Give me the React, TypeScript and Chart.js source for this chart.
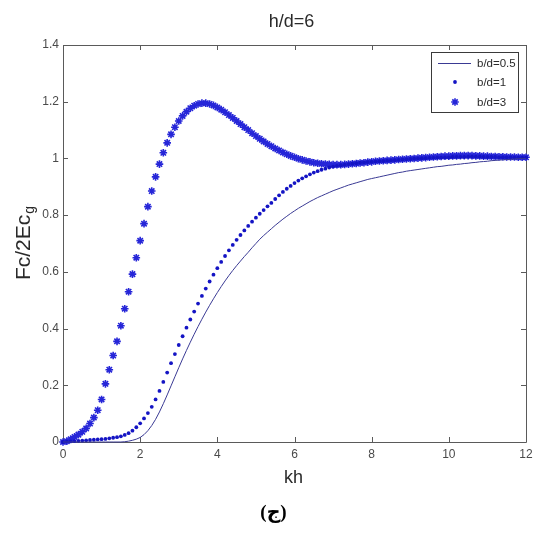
import React, { useEffect, useRef } from "react";
import { Chart, registerables } from "chart.js";

Chart.register(...registerables);

const TITLE = "h/d=6";
const X_LABEL = "kh";
const Y_LABEL_MAIN = "Fc/2Ec";
const Y_LABEL_SUB = "g";
const CAPTION = "(ج)";
const SERIES_NAMES = ["b/d=0.5", "b/d=1", "b/d=3"];
const X_TICKS = [0, 2, 4, 6, 8, 10, 12];
const Y_TICKS = [0, 0.2, 0.4, 0.6, 0.8, 1, 1.2, 1.4];
const Y_TICK_LABELS = ["0", "0.2", "0.4", "0.6", "0.8", "1", "1.2", "1.4"];

const KH = [
  0, 0.1, 0.2, 0.3, 0.4, 0.5, 0.6, 0.7, 0.8, 0.9,
  1, 1.1, 1.2, 1.3, 1.4, 1.5, 1.6, 1.7, 1.8, 1.9,
  2, 2.1, 2.2, 2.3, 2.4, 2.5, 2.6, 2.7, 2.8, 2.9,
  3, 3.1, 3.2, 3.3, 3.4, 3.5, 3.6, 3.7, 3.8, 3.9,
  4, 4.1, 4.2, 4.3, 4.4, 4.5, 4.6, 4.7, 4.8, 4.9,
  5, 5.1, 5.2, 5.3, 5.4, 5.5, 5.6, 5.7, 5.8, 5.9,
  6, 6.1, 6.2, 6.3, 6.4, 6.5, 6.6, 6.7, 6.8, 6.9,
  7, 7.1, 7.2, 7.3, 7.4, 7.5, 7.6, 7.7, 7.8, 7.9,
  8, 8.1, 8.2, 8.3, 8.4, 8.5, 8.6, 8.7, 8.8, 8.9,
  9, 9.1, 9.2, 9.3, 9.4, 9.5, 9.6, 9.7, 9.8, 9.9,
  10, 10.1, 10.2, 10.3, 10.4, 10.5, 10.6, 10.7, 10.8, 10.9,
  11, 11.1, 11.2, 11.3, 11.4, 11.5, 11.6, 11.7, 11.8, 11.9,
  12,
];

// b/d = 0.5 (solid line)
const BD05 = [
  0, 0, 0, 0, 0, 0, 0, 0, 0, 0,
  0, 0, 0, 0, 0, 0, 0.001, 0.003, 0.006, 0.01,
  0.016, 0.026, 0.04, 0.058, 0.08, 0.106, 0.135, 0.166, 0.198, 0.23,
  0.262, 0.293, 0.323, 0.352, 0.38, 0.407, 0.433, 0.458, 0.482, 0.505,
  0.527, 0.548, 0.568, 0.587, 0.605, 0.622, 0.638, 0.654, 0.669, 0.685,
  0.7, 0.715, 0.728, 0.74, 0.752, 0.764, 0.775, 0.786, 0.796, 0.806,
  0.815, 0.824, 0.832, 0.84, 0.848, 0.855, 0.862, 0.868, 0.874, 0.88,
  0.886, 0.891, 0.896, 0.901, 0.906, 0.91, 0.914, 0.918, 0.922, 0.926,
  0.929, 0.932, 0.935, 0.938, 0.941, 0.944, 0.947, 0.95, 0.952, 0.955,
  0.957, 0.959, 0.961, 0.963, 0.965, 0.967, 0.969, 0.971, 0.972, 0.974,
  0.976, 0.977, 0.979, 0.98, 0.982, 0.983, 0.985, 0.986, 0.988, 0.989,
  0.99, 0.992, 0.993, 0.994, 0.995, 0.996, 0.997, 0.998, 0.999, 1.0,
  1.0,
];

// b/d = 1 (dots)
const BD1 = [
  0, 0.001, 0.002, 0.003, 0.004, 0.005, 0.006, 0.007, 0.008, 0.009,
  0.01, 0.011, 0.013, 0.015, 0.017, 0.02, 0.025, 0.031, 0.04, 0.052,
  0.066, 0.083, 0.102, 0.124, 0.15, 0.18, 0.212, 0.245, 0.278, 0.31,
  0.342, 0.373, 0.403, 0.432, 0.46, 0.488, 0.515, 0.541, 0.566, 0.59,
  0.613, 0.635, 0.656, 0.676, 0.695, 0.713, 0.73, 0.746, 0.762, 0.777,
  0.791, 0.805, 0.818, 0.831, 0.843, 0.857, 0.87, 0.882, 0.893, 0.903,
  0.913, 0.922, 0.93, 0.937, 0.944, 0.95, 0.955, 0.96, 0.964, 0.968,
  0.971, 0.974, 0.976, 0.978, 0.98, 0.982, 0.983, 0.985, 0.986, 0.987,
  0.988, 0.989, 0.99, 0.991, 0.992, 0.993, 0.994, 0.995, 0.996, 0.997,
  0.998, 0.999, 1.0, 1.0, 1.001, 1.002, 1.002, 1.003, 1.003, 1.004,
  1.004, 1.005, 1.005, 1.005, 1.005, 1.006, 1.006, 1.006, 1.006, 1.005,
  1.005, 1.005, 1.005, 1.004, 1.004, 1.004, 1.004, 1.003, 1.003, 1.003,
  1.003,
];

// b/d = 3 (stars)
const BD3 = [
  0, 0.003, 0.01, 0.018, 0.026, 0.036, 0.048, 0.065, 0.086, 0.112,
  0.15, 0.205, 0.255, 0.305, 0.355, 0.41, 0.47, 0.53, 0.592, 0.65,
  0.71, 0.77, 0.83, 0.885, 0.935, 0.98, 1.02, 1.055, 1.085, 1.11,
  1.132, 1.15, 1.165, 1.177, 1.186, 1.192, 1.195, 1.195, 1.192, 1.187,
  1.18, 1.172, 1.163, 1.153, 1.143, 1.132, 1.121, 1.11, 1.1, 1.089,
  1.079, 1.069, 1.06, 1.051, 1.043, 1.035, 1.028, 1.021, 1.015, 1.009,
  1.004, 0.999, 0.995, 0.991, 0.988, 0.985, 0.983, 0.981, 0.98, 0.979,
  0.978, 0.978, 0.978, 0.979, 0.98, 0.981, 0.982, 0.984, 0.985, 0.987,
  0.988, 0.99, 0.991, 0.992, 0.993, 0.994, 0.995, 0.996, 0.997, 0.998,
  0.999, 1.0, 1.001, 1.002, 1.003, 1.004, 1.005, 1.006, 1.007, 1.008,
  1.008, 1.009, 1.009, 1.01, 1.01, 1.01, 1.01, 1.009, 1.009, 1.008,
  1.008, 1.007, 1.007, 1.006, 1.006, 1.005, 1.005, 1.005, 1.004, 1.004,
  1.004,
];

const LINE_COLOR = "#3a3a94";
const DOT_COLOR = "#1414c4";
const STAR_COLOR = "#2626d8";
const AXIS_COLOR = "#5a5a5a";
const TEXT_COLOR = "#2a2a2a";
const TICK_COLOR = "#4a4a4a";

function toXY(ys: number[]) {
  return KH.map((x, i) => ({ x, y: ys[i] }));
}

function drawStar(ctx: CanvasRenderingContext2D, x: number, y: number, r: number) {
  ctx.beginPath();
  ctx.moveTo(x - r, y);
  ctx.lineTo(x + r, y);
  ctx.moveTo(x, y - r);
  ctx.lineTo(x, y + r);
  const d = r * 0.7071;
  ctx.moveTo(x - d, y - d);
  ctx.lineTo(x + d, y + d);
  ctx.moveTo(x - d, y + d);
  ctx.lineTo(x + d, y - d);
  ctx.stroke();
}

const overlayPlugin = {
  id: "overlay",
  beforeDatasetsDraw(chart: any) {
    const { ctx, chartArea } = chart;
    const { left, right, top, bottom } = chartArea;
    const xs = chart.scales.x;
    const ys = chart.scales.y;
    ctx.save();
    ctx.strokeStyle = AXIS_COLOR;
    ctx.lineWidth = 1;
    ctx.beginPath();
    ctx.rect(Math.round(left) + 0.5, Math.round(top) + 0.5, Math.round(right - left), Math.round(bottom - top));
    ctx.stroke();
    const tl = 5;
    ctx.beginPath();
    X_TICKS.forEach((v) => {
      const px = Math.round(xs.getPixelForValue(v)) + 0.5;
      ctx.moveTo(px, bottom);
      ctx.lineTo(px, bottom - tl);
      ctx.moveTo(px, top);
      ctx.lineTo(px, top + tl);
    });
    Y_TICKS.forEach((v) => {
      const py = Math.round(ys.getPixelForValue(v)) + 0.5;
      ctx.moveTo(left, py);
      ctx.lineTo(left + tl, py);
      ctx.moveTo(right, py);
      ctx.lineTo(right - tl, py);
    });
    ctx.stroke();
    ctx.restore();
  },
  afterDraw(chart: any) {
    const { ctx, chartArea } = chart;
    const cx = (chartArea.left + chartArea.right) / 2;
    const cy = (chartArea.top + chartArea.bottom) / 2;
    ctx.save();
    ctx.fillStyle = TEXT_COLOR;
    ctx.textAlign = "center";
    ctx.textBaseline = "middle";
    // Title
    ctx.font = "18px Arial, 'Liberation Sans', sans-serif";
    ctx.fillText(TITLE, cx - 3, 22);
    // X label
    ctx.font = "18px Arial, 'Liberation Sans', sans-serif";
    ctx.fillText(X_LABEL, cx - 1, 478);
    // Caption
    ctx.fillStyle = "#000";
    ctx.font = "bold 19px 'Liberation Serif', 'DejaVu Sans', serif";
    ctx.fillText(CAPTION, cx - 21, 513);
    // Y label (rotated) with subscript
    ctx.fillStyle = TEXT_COLOR;
    ctx.translate(22, cy);
    ctx.rotate(-Math.PI / 2);
    ctx.textAlign = "left";
    ctx.textBaseline = "alphabetic";
    const mainFont = "21px Arial, 'Liberation Sans', sans-serif";
    const subFont = "14px Arial, 'Liberation Sans', sans-serif";
    ctx.font = mainFont;
    const w1 = ctx.measureText(Y_LABEL_MAIN).width;
    ctx.font = subFont;
    const w2 = ctx.measureText(Y_LABEL_SUB).width;
    const sx = -(w1 + w2) / 2;
    ctx.font = mainFont;
    ctx.fillText(Y_LABEL_MAIN, sx, 8);
    ctx.font = subFont;
    ctx.fillText(Y_LABEL_SUB, sx + w1 + 1, 12);
    ctx.restore();

    // Legend
    ctx.save();
    const lx = 431.5, ly = 52.5, lw = 87, lh = 60;
    ctx.fillStyle = "#fff";
    ctx.fillRect(lx, ly, lw, lh);
    ctx.strokeStyle = "#3a3a3a";
    ctx.lineWidth = 1;
    ctx.strokeRect(lx, ly, lw, lh);
    const rows = [63, 82, 102];
    ctx.strokeStyle = LINE_COLOR;
    ctx.beginPath();
    ctx.moveTo(438, rows[0] + 0.5);
    ctx.lineTo(471, rows[0] + 0.5);
    ctx.stroke();
    ctx.fillStyle = DOT_COLOR;
    ctx.beginPath();
    ctx.arc(455, rows[1], 1.9, 0, Math.PI * 2);
    ctx.fill();
    ctx.strokeStyle = STAR_COLOR;
    ctx.lineWidth = 1.6;
    drawStar(ctx, 455, rows[2], 3.8);
    ctx.fillStyle = TEXT_COLOR;
    ctx.font = "11.5px Arial, 'Liberation Sans', sans-serif";
    ctx.textAlign = "left";
    ctx.textBaseline = "middle";
    SERIES_NAMES.forEach((n, i) => ctx.fillText(n, 477, rows[i] + 1));
    ctx.restore();
  },
};

export default function App() {
  const ref = useRef<HTMLCanvasElement | null>(null);
  useEffect(() => {
    if (!ref.current) return;
    const chart = new Chart(ref.current, {
      type: "scatter",
      data: {
        datasets: [
          {
            label: SERIES_NAMES[0],
            data: toXY(BD05),
            showLine: true,
            borderColor: LINE_COLOR,
            borderWidth: 1,
            pointRadius: 0,
            tension: 0,
            clip: false as any,
          },
          {
            label: SERIES_NAMES[1],
            data: toXY(BD1),
            showLine: false,
            pointStyle: "circle",
            pointRadius: 1.9,
            pointBorderWidth: 0,
            backgroundColor: DOT_COLOR,
            borderColor: DOT_COLOR,
            clip: false as any,
          },
          {
            label: SERIES_NAMES[2],
            data: toXY(BD3),
            showLine: false,
            pointStyle: "star",
            pointRadius: 3.8,
            pointBorderWidth: 1.6,
            borderColor: STAR_COLOR,
            backgroundColor: STAR_COLOR,
            clip: false as any,
          },
        ],
      },
      options: {
        responsive: false,
        animation: false,
        layout: { padding: { left: 0, top: 45, right: 14, bottom: 0 } },
        plugins: { legend: { display: false }, title: { display: false }, tooltip: { enabled: false } },
        scales: {
          x: {
            type: "linear",
            min: 0,
            max: 12,
            afterBuildTicks: (s: any) => {
              s.ticks = X_TICKS.map((v) => ({ value: v }));
            },
            afterFit: (s: any) => {
              s.height = 91;
            },
            ticks: {
              padding: 5,
              maxRotation: 0,
              autoSkip: false,
              color: TICK_COLOR,
              font: { family: "Arial, 'Liberation Sans', sans-serif", size: 12 },
              callback: (v: any) => String(v),
            },
            grid: { display: false, drawTicks: false },
            border: { display: false },
          },
          y: {
            type: "linear",
            min: 0,
            max: 1.4,
            afterBuildTicks: (s: any) => {
              s.ticks = Y_TICKS.map((v) => ({ value: v }));
            },
            afterFit: (s: any) => {
              s.width = 63;
            },
            ticks: {
              padding: 4,
              autoSkip: false,
              color: TICK_COLOR,
              font: { family: "Arial, 'Liberation Sans', sans-serif", size: 12 },
              callback: (v: any) => {
                const i = Y_TICKS.findIndex((t) => Math.abs(t - v) < 1e-6);
                return i >= 0 ? Y_TICK_LABELS[i] : "";
              },
            },
            grid: { display: false, drawTicks: false },
            border: { display: false },
          },
        },
      },
      plugins: [overlayPlugin],
    });
    return () => chart.destroy();
  }, []);
  return (
    <div style={{ position: "fixed", left: 0, top: 0, width: 540, height: 533, background: "#fff" }}>
      <canvas ref={ref} width={540} height={533} style={{ display: "block" }} />
    </div>
  );
}
